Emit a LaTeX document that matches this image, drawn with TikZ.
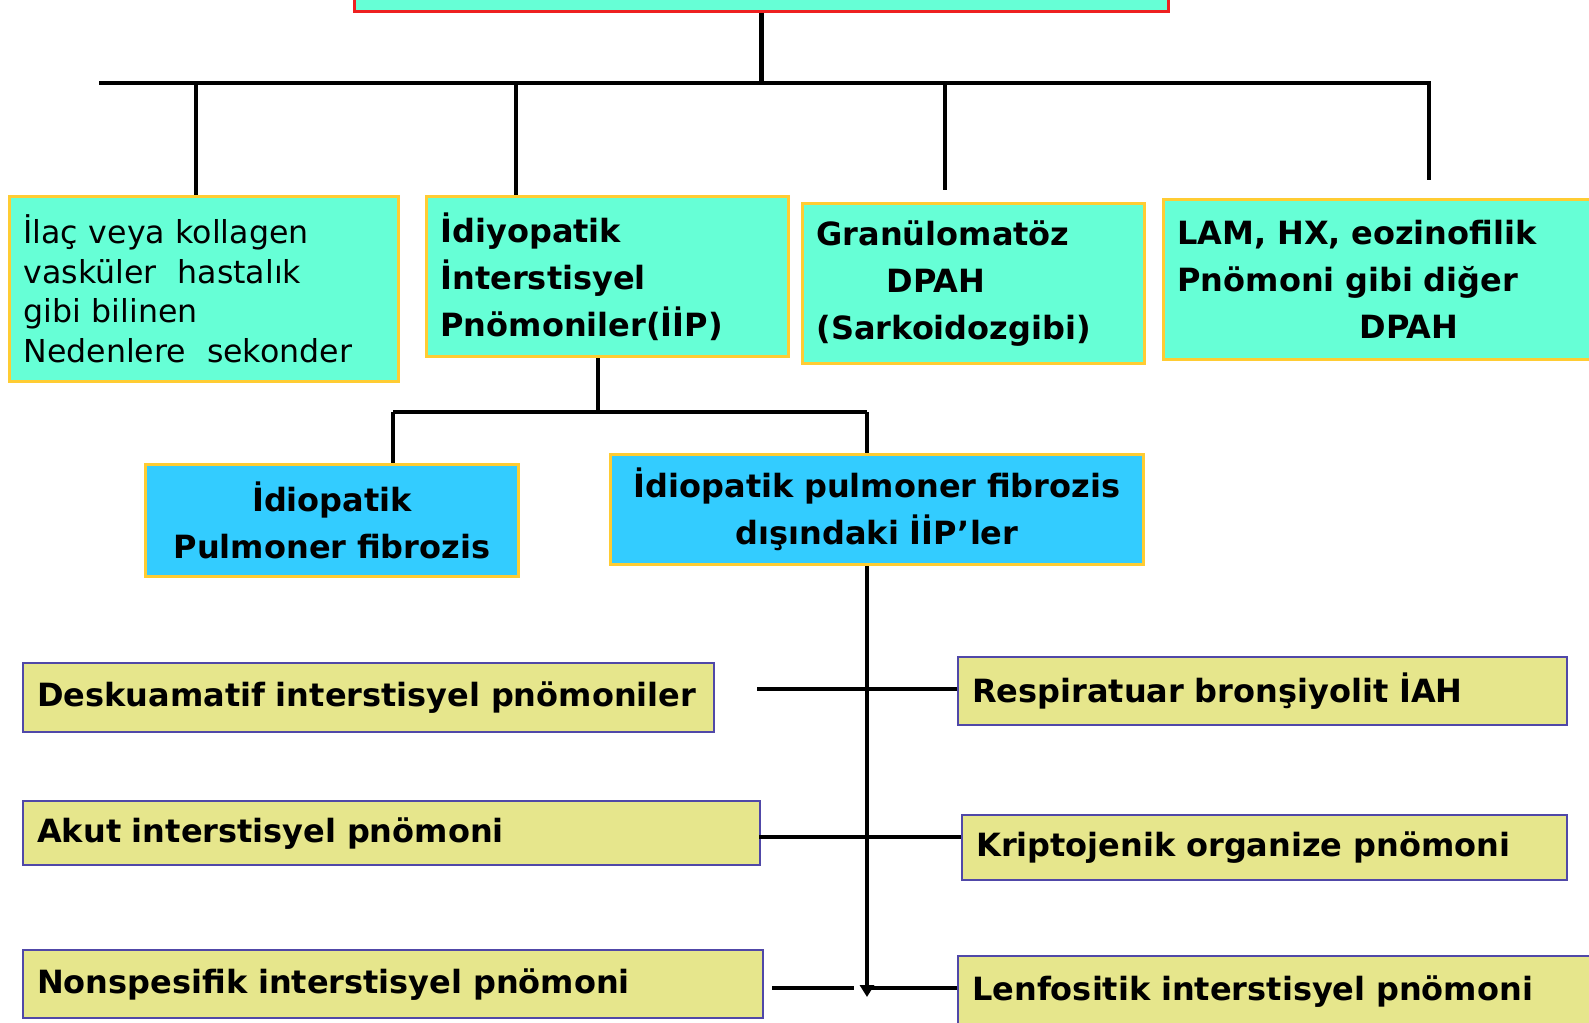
\documentclass[tikz,border=0pt]{standalone}
\usepackage{fontspec}
\setmainfont{DejaVu Sans}
\usetikzlibrary{arrows.meta}
\definecolor{aqua}{HTML}{66FFD6}
\definecolor{skyblue}{HTML}{33CCFF}
\definecolor{khaki}{HTML}{E6E68C}
\definecolor{gold}{HTML}{FFCC33}
\definecolor{violetblue}{HTML}{5048A8}
\definecolor{rootred}{HTML}{EE2020}
\begin{document}
\begin{tikzpicture}[x=0.5pt,y=-0.5pt,
    conn/.style={line width=2.3pt,black},
    box/.style={draw=gold,line width=1.5pt,fill=aqua,anchor=north west,inner xsep=7pt,inner ysep=0pt,
        font=\bfseries\fontsize{16}{23.5}\selectfont,align=left},
    bluebox/.style={box,fill=skyblue,align=center},
    leaf/.style={draw=violetblue,line width=1.2pt,fill=khaki,anchor=north west,inner xsep=7pt,inner ysep=0pt,
        font=\bfseries\fontsize{16}{20}\selectfont,align=left}]
    \useasboundingbox (0,0) rectangle (1589,1022);
    \node[box,draw=rootred,anchor=south west,minimum width=407pt,minimum height=40pt] (root) at (353,13) {};
    \node[box,text width=180.5pt,minimum height=92.5pt,font=\fontsize{15.8}{19.75}\selectfont] (b1) at (8,195)
        {İlaç veya kollagen\\vasküler\ \ hastalık\\gibi bilinen\\Nedenlere\ \ sekonder};
    \node[box,text width=167pt,minimum height=80pt] (b2) at (425,195)
        {İdiyopatik\\İnterstisyel\\Pnömoniler(İİP)};
    \node[box,text width=157pt,minimum height=80pt] (b3) at (801,202)
        {Granülomatöz\\\hspace*{35pt}DPAH\\(Sarkoidozgibi)};
    \node[box,text width=205pt,minimum height=80pt] (b4) at (1162,198)
        {LAM, HX, eozinofilik\\Pnömoni gibi diğer\\\hspace*{91pt}DPAH\\[4pt]};
    \node[bluebox,text width=172.5pt,minimum height=56pt] (c1) at (144,463)
        {İdiopatik\\Pulmoner fibrozis};
    \node[bluebox,text width=252.5pt,minimum height=55pt] (c2) at (609,453)
        {İdiopatik pulmoner fibrozis\\dışındaki İİP’ler\hspace*{22pt}};
    \node[leaf,text width=331.5pt,minimum height=34.5pt] (d1) at (22,662) {Deskuamatif interstisyel pnömoniler};
    \node[leaf,text width=354.5pt,minimum height=32pt] (d2) at (22,800) {Akut interstisyel pnömoni};
    \node[leaf,text width=356pt,minimum height=34pt] (d3) at (22,949) {Nonspesifik interstisyel pnömoni};
    \node[leaf,text width=290.5pt,minimum height=34pt] (e1) at (957,656) {Respiratuar bronşiyolit İAH};
    \node[leaf,text width=288.5pt,minimum height=32.5pt] (e2) at (961,814) {Kriptojenik organize pnömoni};
    \node[leaf,text width=307.5pt,minimum height=35pt] (e3) at (957,955) {Lenfositik interstisyel pnömoni};
    \coordinate (barL) at (99,83);
    \coordinate (barR) at (1431,83);
    \coordinate (t1) at (196,83);
    \coordinate (t2) at (516,83);
    \coordinate (t3) at (945,83);
    \coordinate (t3e) at (945,190);
    \coordinate (t4) at (1429,83);
    \coordinate (t4e) at (1429,180);
    \draw[conn] (root.south) -- (root.south |- barL);
    \draw[conn] (barL) -- (barR);
    \draw[conn] (t1) -- (t1 |- b1.north);
    \draw[conn] (t2) -- (t2 |- b2.north);
    \draw[conn] (t3) -- (t3e);
    \draw[conn] (t4) -- (t4e);
    \coordinate (m) at (598,412);
    \coordinate (mL) at (393,412);
    \coordinate (mR) at (867,412);
    \draw[conn] (m |- b2.south) -- (m);
    \draw[conn] (mL) -- (mR);
    \draw[conn] (mL) -- (mL |- c1.north);
    \draw[conn] (mR) -- (mR |- c2.north);
    \coordinate (tip) at (867,997);
    \draw[conn,-{Triangle[width=7pt,length=6pt]}] (tip |- c2.south) -- (tip);
    \coordinate (r1) at (757,689);
    \coordinate (r2) at (759,837);
    \coordinate (r3) at (772,988);
    \coordinate (r3a) at (854,988);
    \coordinate (r3b) at (867,988);
    \draw[conn] (r1) -- (r1 -| e1.west);
    \draw[conn] (r2) -- (r2 -| e2.west);
    \draw[conn] (r3) -- (r3a);
    \draw[conn] (r3b) -- (r3b -| e3.west);
\end{tikzpicture}
\end{document}
